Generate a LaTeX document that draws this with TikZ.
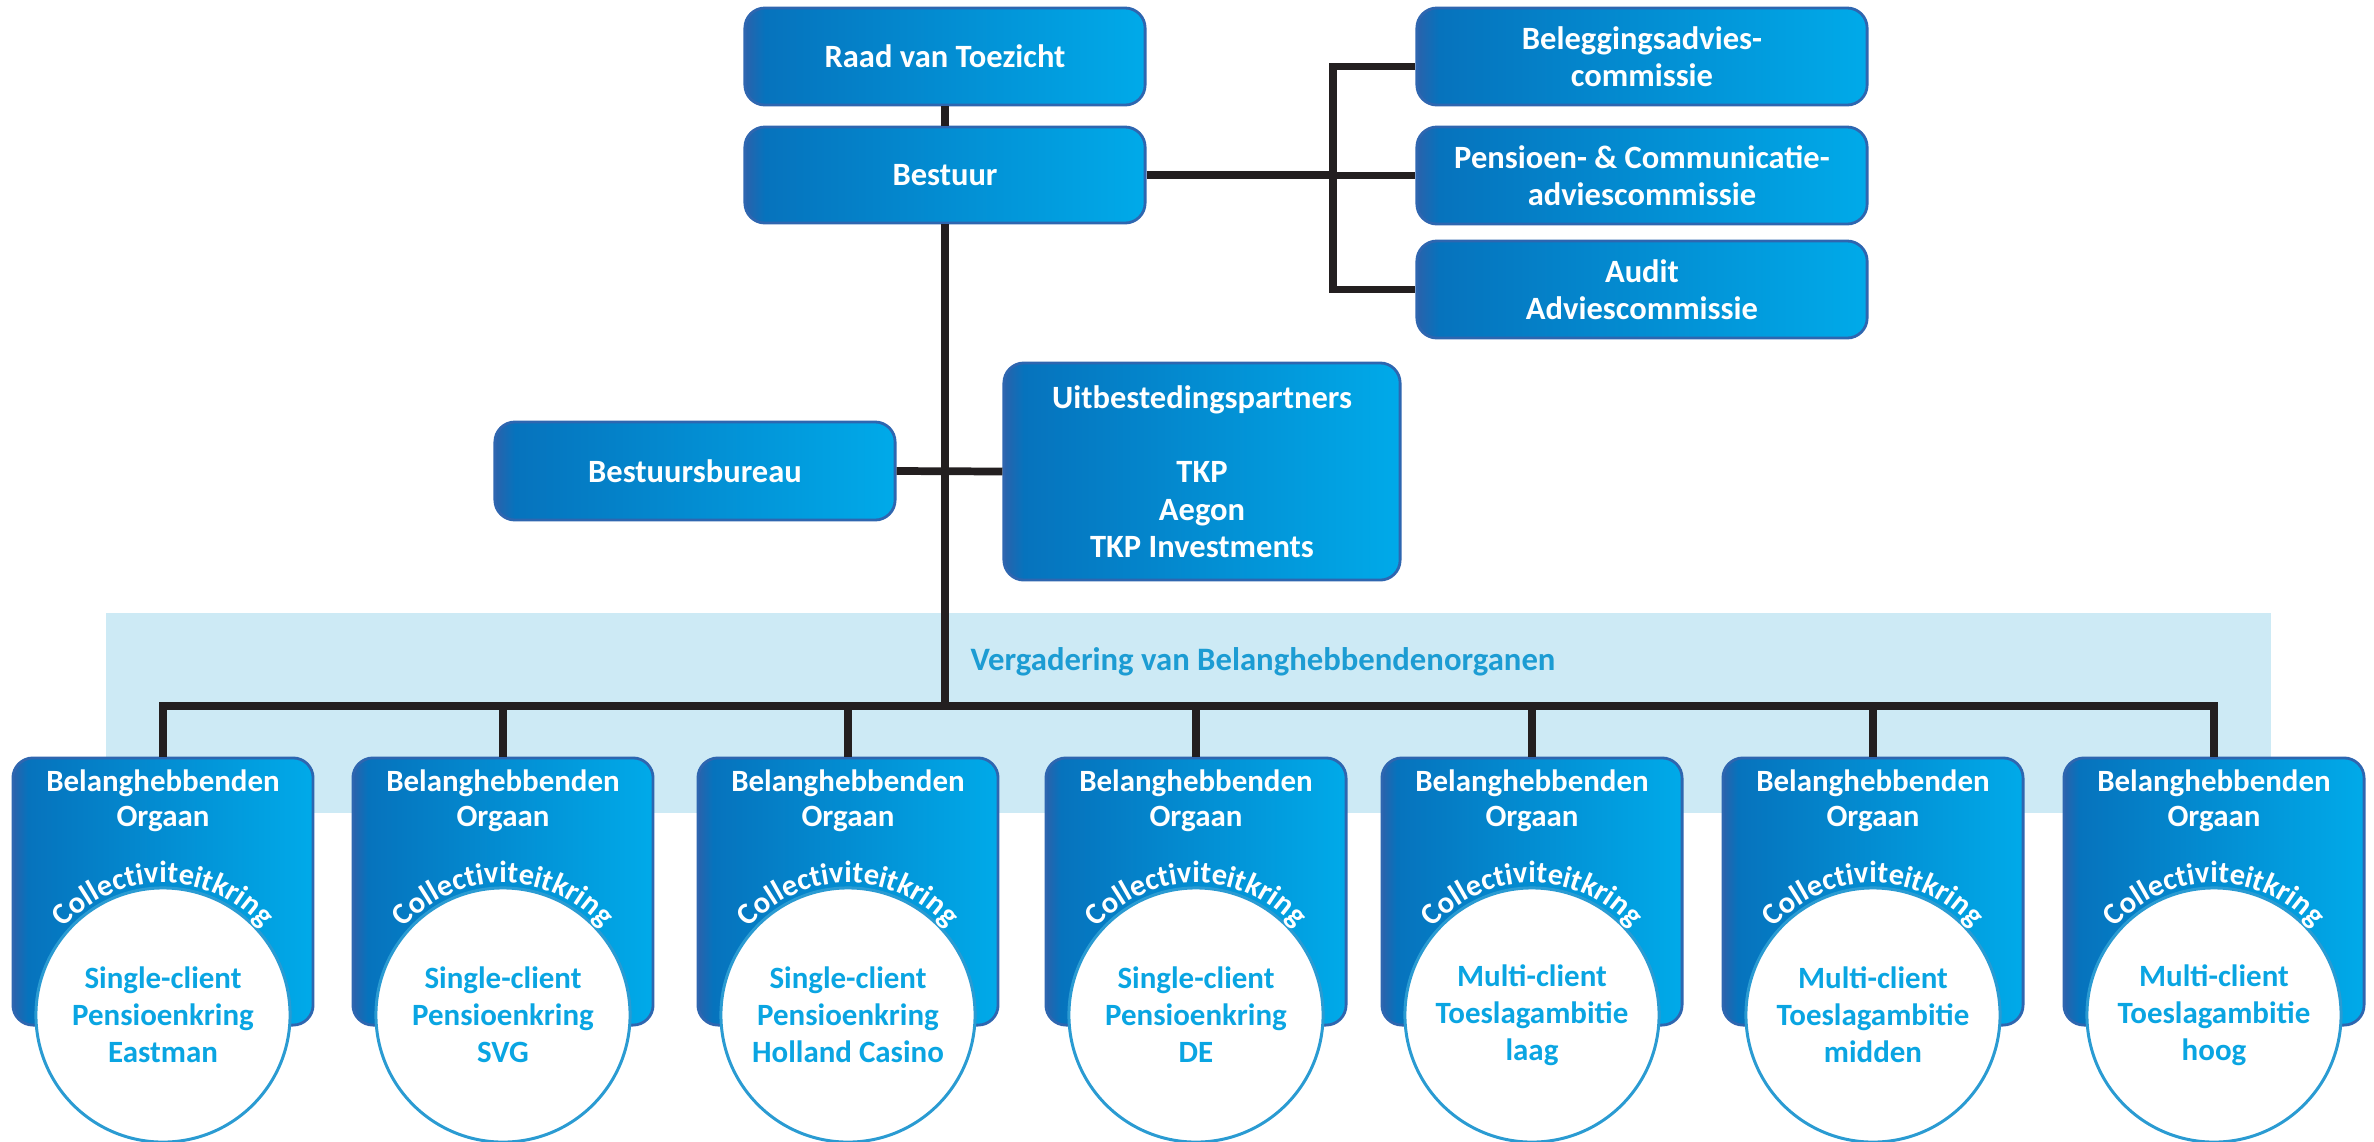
\documentclass[tikz,border=0pt]{standalone}
\usepackage{fontspec}
\setmainfont{Carlito}
\usetikzlibrary{decorations.text}
\definecolor{bA}{HTML}{2A62AB}
\definecolor{bB}{HTML}{0673BD}
\definecolor{bC}{HTML}{00AAE9}
\definecolor{bBorder}{HTML}{2E66B0}
\definecolor{connc}{HTML}{231F20}
\definecolor{bandc}{HTML}{CDEAF5}
\definecolor{bandtxt}{HTML}{1C9CD3}
\definecolor{circtxt}{HTML}{0AA5E2}
\definecolor{circline}{HTML}{2A9BD2}
\pgfdeclarehorizontalshading{boxshade}{100bp}{color(0bp)=(bA); color(25bp)=(bA); color(27.5bp)=(bB); color(75bp)=(bC); color(100bp)=(bC)}
\tikzset{
  box/.style={shade, shading=boxshade, draw=bBorder, line width=0.8pt, rounded corners=0.2cm,
    text=white, font=\bfseries\fontsize{9.25}{10.6}\selectfont, align=center, inner sep=0pt},
  orgbox/.style={box, minimum width=3cm, minimum height=2.67cm},
  circ/.style={circle, fill=white, draw=circline, line width=0.85pt, minimum size=2.54cm, inner sep=0pt,
    text=circtxt, font=\bfseries\fontsize{8.8}{10.5}\selectfont, align=center},
  orgtxt/.style={text=white, font=\bfseries\fontsize{8.8}{9.9}\selectfont, align=center, inner sep=0pt},
  conn/.style={draw=connc, line width=2.2pt, line join=miter},
  band/.style={fill=bandc, inner sep=0pt, minimum width=21.63cm, minimum height=2cm},
  bandlabel/.style={text=bandtxt, font=\bfseries\fontsize{9.3}{10}\selectfont, inner sep=0pt},
}
\newcommand{\kring}[1]{%
  \path[decorate, decoration={text along path, text align=center, text color=white,
    text={|\bfseries\fontsize{8.7}{10}\selectfont|Collectiviteitkring}}]
    ([shift={(152:1.32cm)}]#1.center) arc[start angle=152, end angle=28, radius=1.32cm];}
\begin{document}
\begin{tikzpicture}[x=0.01cm, y=0.01cm]
\useasboundingbox (0,0) rectangle (2374,-1141);
% band
\node[band] (band) at (1188.5,-713) {};
\node[bandlabel] (bandlbl) at (1263,-662) {Vergadering van Belanghebbendenorganen};
% top boxes
\node[box, minimum width=4cm, minimum height=0.97cm] (rvt) at (945,-56.5) {Raad van Toezicht};
\node[box, minimum width=4cm, minimum height=0.96cm] (bestuur) at (945,-175) {Bestuur};
\node[box, minimum width=4.5cm, minimum height=0.97cm] (beleg) at (1642,-56.5) {Beleggingsadvies-\\commissie};
\node[box, minimum width=4.5cm, minimum height=0.97cm] (pens) at (1642,-175.5) {Pensioen- \& Communicatie-\\adviescommissie};
\node[box, minimum width=4.5cm, minimum height=0.97cm] (audit) at (1642,-289.5) {Audit\\Adviescommissie};
\node[box, minimum width=4cm, minimum height=0.98cm] (bb) at (695,-471) {Bestuursbureau};
\node[box, minimum width=3.96cm, minimum height=2.17cm] (uit) at (1202,-471.5) {Uitbestedingspartners\\[\baselineskip]TKP\\Aegon\\TKP Investments};
% connectors top
\coordinate (brk) at (1333,-179);
\coordinate (bus) at (945,-706);
\draw[conn] (rvt.south) -- (bestuur.north);
\draw[conn] (bestuur.east) -- (bestuur.east -| brk);
\draw[conn] ([yshift=-0.1cm]beleg.west) -| (brk |- audit.west) -- (audit.west);
\draw[conn] (pens.west) -- (pens.west -| brk);
\draw[conn] (bb.east) -- (uit.west);
\draw[conn] (bestuur.south) -- (bestuur.south |- bus);
% bottom organs
\foreach \i/\x/\a/\b/\c in {
  1/163/Single-client/Pensioenkring/Eastman,
  2/503/Single-client/Pensioenkring/SVG,
  3/848/Single-client/Pensioenkring/Holland Casino,
  4/1196/Single-client/Pensioenkring/DE,
  5/1532/Multi-client/Toeslagambitie/laag,
  6/1873/Multi-client/Toeslagambitie/midden,
  7/2214/Multi-client/Toeslagambitie/hoog}{
  \node[orgbox] (b\i) at (\x,-891.5) {};
  \node[orgtxt] (t\i) at (\x,-801) {Belanghebbenden\\Orgaan};
  \node[circ] (c\i) at (\x,-1015) {\a\\\b\\\c};
  \kring{c\i}
}
\draw[conn] (b1.north) |- (bus) -| (b7.north);
\foreach \i in {2,...,6}{\draw[conn] (b\i.north) -- (b\i.north |- bus);}
\end{tikzpicture}
\end{document}
